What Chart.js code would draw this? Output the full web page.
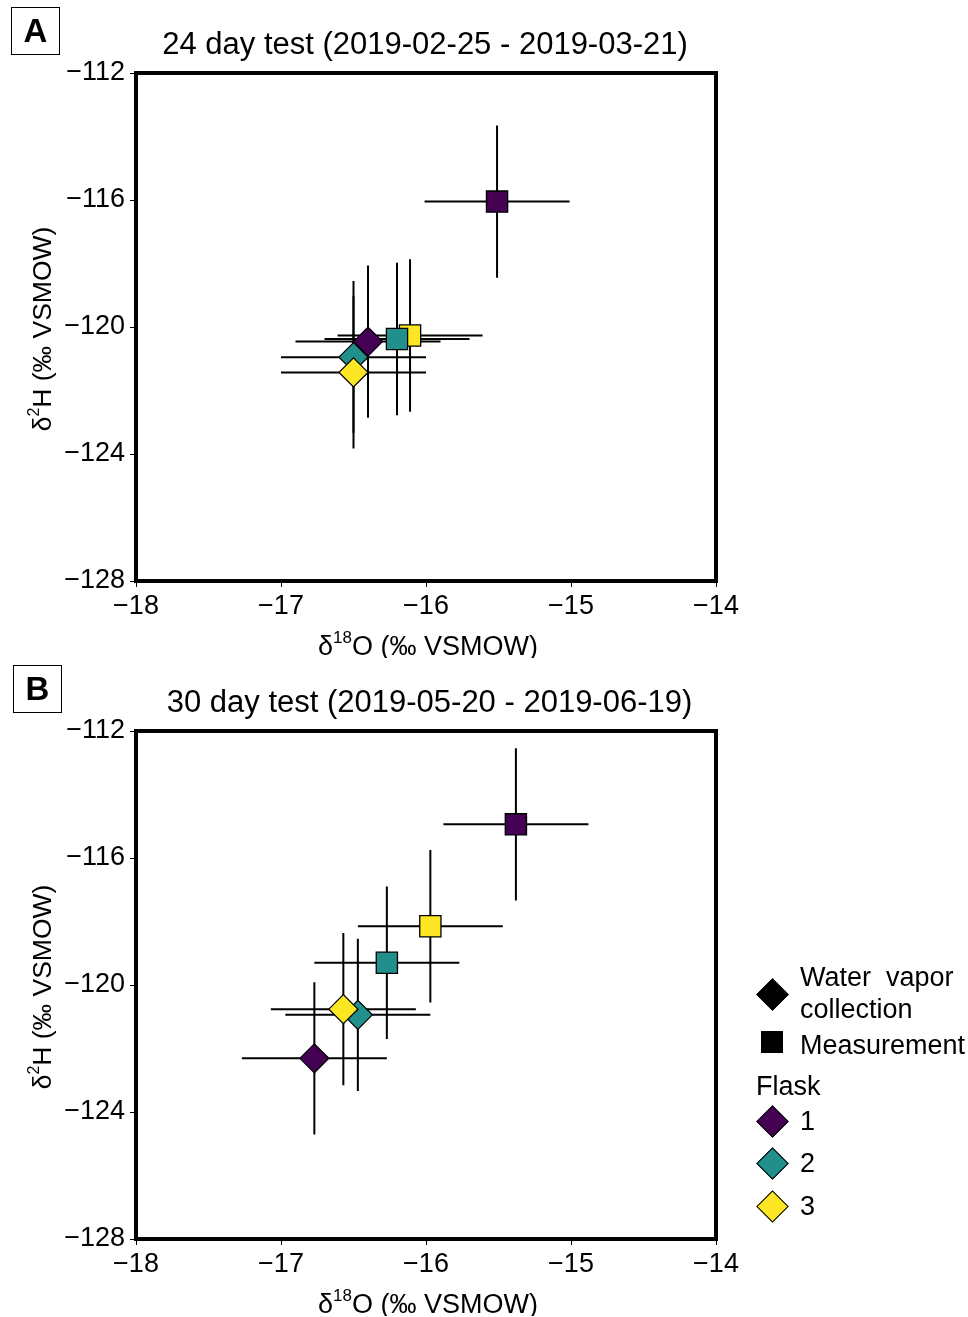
<!DOCTYPE html>
<html lang="en">
<head>
  <meta charset="UTF-8">
  <title>Flask tests</title>
  <script src="https://cdn.jsdelivr.net/npm/chart.js"></script>
  <style>
    body { margin: 0; background: #fff; font-family: 'Liberation Sans', Arial, sans-serif; color: #000; }
    .page { position: relative; width: 968px; height: 1317px; }
    canvas { position: absolute; left: 0; }
    .tag { position: absolute; box-sizing: border-box; width: 49px; height: 48px; border: 1.5px solid #000;
           font-weight: bold; font-size: 33px; text-align: center; line-height: 45px; }
    .txt { position: absolute; font-size: 27px; height: 30px; line-height: 30px; white-space: pre; }
    .mk { position: absolute; box-sizing: border-box; border: 1.5px solid #000; }
  </style>
</head>
<body>
<div class="page" id="page">
  <canvas id="chartA" width="968" height="658" style="top:0"></canvas>
  <canvas id="chartB" width="968" height="658" style="top:658px"></canvas>
  <div class="tag" style="left:11px;top:7px">A</div>
  <div class="tag" style="left:13px;top:665px">B</div>
</div>

<script>
  // ---- data ----
  const flasks = ['1', '2', '3'];
  const flaskColors = ['#440154', '#21908C', '#FDE725'];

  // panel A: 24 day test
  const collA_x = [-16.40, -16.50, -16.50];
  const collA_y = [-120.46, -120.95, -121.43];
  const measA_x = [-15.51, -16.20, -16.11];
  const measA_y = [-116.05, -120.38, -120.27];
  const errA_x = [0.5, 0.5, 0.5];
  const errA_y = [2.4, 2.4, 2.4];

  // panel B: 30 day test
  const collB_x = [-16.77, -16.47, -16.57];
  const collB_y = [-122.31, -120.94, -120.76];
  const measB_x = [-15.38, -16.27, -15.97];
  const measB_y = [-114.94, -119.30, -118.15];
  const errB_x = [0.5, 0.5, 0.5];
  const errB_y = [2.4, 2.4, 2.4];

  const xTicks = [-18, -17, -16, -15, -14];
  const yTicks = [-128, -124, -120, -116, -112];

  const FONT = "'Liberation Sans', Arial, sans-serif";

  // error bars drawn under the markers
  const errorBars = {
    id: 'errorBars',
    beforeDatasetsDraw(chart) {
      const { ctx, scales: { x, y } } = chart;
      ctx.save();
      ctx.strokeStyle = '#000';
      ctx.lineWidth = 2;
      chart.data.datasets.forEach(ds => {
        ds.data.forEach(p => {
          const px = x.getPixelForValue(p.x), py = y.getPixelForValue(p.y);
          ctx.beginPath();
          ctx.moveTo(x.getPixelForValue(p.x - p.ex), py);
          ctx.lineTo(x.getPixelForValue(p.x + p.ex), py);
          ctx.moveTo(px, y.getPixelForValue(p.y + p.ey));
          ctx.lineTo(px, y.getPixelForValue(p.y - p.ey));
          ctx.stroke();
        });
      });
      ctx.restore();
    }
  };

  // text with a raised part, centred on (cx, cy)
  function supText(ctx, parts, cx, cy, size) {
    const big = size + 'px ' + FONT, small = Math.round(size * 0.62) + 'px ' + FONT;
    let w = 0;
    parts.forEach(([t, s]) => { ctx.font = s ? small : big; w += ctx.measureText(t).width; });
    let x0 = cx - w / 2;
    ctx.textAlign = 'left';
    ctx.textBaseline = 'middle';
    parts.forEach(([t, s]) => {
      ctx.font = s ? small : big;
      ctx.fillText(t, x0, s ? cy - size * 0.36 : cy);
      x0 += ctx.measureText(t).width;
    });
  }

  // frame, title and axis titles
  const decor = {
    id: 'decor',
    afterDraw(chart, args, opts) {
      const { ctx, chartArea: a } = chart;
      ctx.save();
      ctx.strokeStyle = '#000';
      ctx.lineWidth = 4;
      ctx.strokeRect(a.left, a.top, a.right - a.left, a.bottom - a.top);
      ctx.fillStyle = '#000';
      const cx = (a.left + a.right) / 2;
      ctx.font = '31px ' + FONT;
      ctx.textAlign = 'center';
      ctx.textBaseline = 'middle';
      ctx.fillText(opts.title, cx + opts.dx, 45);
      supText(ctx, [['\u03b4', false], ['18', true], ['O (\u2030 VSMOW)', false]], cx + 2, 648, 27);
      ctx.translate(44, (a.top + a.bottom) / 2 + 2);
      ctx.rotate(-Math.PI / 2);
      supText(ctx, [['\u03b4', false], ['2', true], ['H (\u2030 VSMOW)', false]], 0, 0, 26.5);
      ctx.restore();
    }
  };

  const fmt = v => (v < 0 ? '\u2212' : '') + Math.abs(v);

  function points(xs, ys, exs, eys, i) {
    return [{ x: xs[i], y: ys[i], ex: exs[i], ey: eys[i] }];
  }

  function makePanel(id, title, dx, cx, cy, mx, my, ex, ey) {
    const datasets = [];
    // later entries drawn first; diamonds end up on top of squares
    const diamondOrder = [0, 2, 1];
    const squareOrder = [0, 1, 2];
    diamondOrder.forEach(i => datasets.push({
      label: 'Water vapor collection ' + flasks[i],
      data: points(cx, cy, ex, ey, i),
      pointStyle: 'rectRot', pointRadius: 14.5,
      backgroundColor: flaskColors[i], borderColor: '#000', borderWidth: 1.3
    }));
    squareOrder.forEach(i => datasets.push({
      label: 'Measurement ' + flasks[i],
      data: points(mx, my, ex, ey, i),
      pointStyle: 'rect', pointRadius: 15,
      backgroundColor: flaskColors[i], borderColor: '#000', borderWidth: 1.3
    }));

    const tickFont = { family: FONT, size: 27 };
    return new Chart(document.getElementById(id), {
      type: 'scatter',
      data: { datasets },
      options: {
        responsive: false,
        animation: false,
        events: [],
        layout: { padding: { left: 0, right: 252, top: 73, bottom: 27 } },
        plugins: { legend: { display: false }, tooltip: { enabled: false }, decor: { title, dx } },
        scales: {
          x: {
            type: 'linear', min: xTicks[0], max: xTicks[xTicks.length - 1],
            afterBuildTicks: s => { s.ticks = xTicks.map(v => ({ value: v })); },
            ticks: { font: tickFont, color: '#000', padding: 3, callback: fmt, maxRotation: 0 },
            grid: { drawOnChartArea: false, tickLength: 6, color: '#000', lineWidth: 1 },
            border: { display: false },
            afterFit: s => { s.height = 50; }
          },
          y: {
            type: 'linear', min: yTicks[0], max: yTicks[yTicks.length - 1],
            afterBuildTicks: s => { s.ticks = yTicks.map(v => ({ value: v })); },
            ticks: { font: tickFont, color: '#000', padding: 5, callback: fmt },
            grid: { drawOnChartArea: false, tickLength: 6, color: '#000', lineWidth: 1 },
            border: { display: false },
            afterFit: s => { s.width = 136; }
          }
        }
      },
      plugins: [errorBars, decor]
    });
  }

  makePanel('chartA', '24 day test (2019-02-25 - 2019-03-21)', -1,
    collA_x, collA_y, measA_x, measA_y, errA_x, errA_y);
  makePanel('chartB', '30 day test (2019-05-20 - 2019-06-19)', 3.5,
    collB_x, collB_y, measB_x, measB_y, errB_x, errB_y);

  // ---- legend (beside panel B) ----
  const page = document.getElementById('page');
  function add(cls, css, text) {
    const d = document.createElement('div');
    d.className = cls;
    d.style.cssText = css;
    if (text) d.textContent = text;
    page.appendChild(d);
  }
  function diamond(cy, color) {
    add('mk', `left:761px;top:${cy - 11.5}px;width:23px;height:23px;background:${color};transform:rotate(45deg)`);
  }
  const shapeLabels = ['Water  vapor', 'collection', 'Measurement'];
  diamond(994, '#000');
  add('txt', 'left:800px;top:962px', shapeLabels[0]);
  add('txt', 'left:800px;top:994px', shapeLabels[1]);
  add('mk', 'left:761px;top:1031px;width:22px;height:22px;background:#000');
  add('txt', 'left:800px;top:1030px', shapeLabels[2]);
  add('txt', 'left:756px;top:1071px', 'Flask');
  const flaskY = [1121, 1163, 1206];
  flasks.forEach((f, i) => {
    diamond(flaskY[i], flaskColors[i]);
    add('txt', `left:800px;top:${flaskY[i] - 15}px`, f);
  });
</script>
</body>
</html>
